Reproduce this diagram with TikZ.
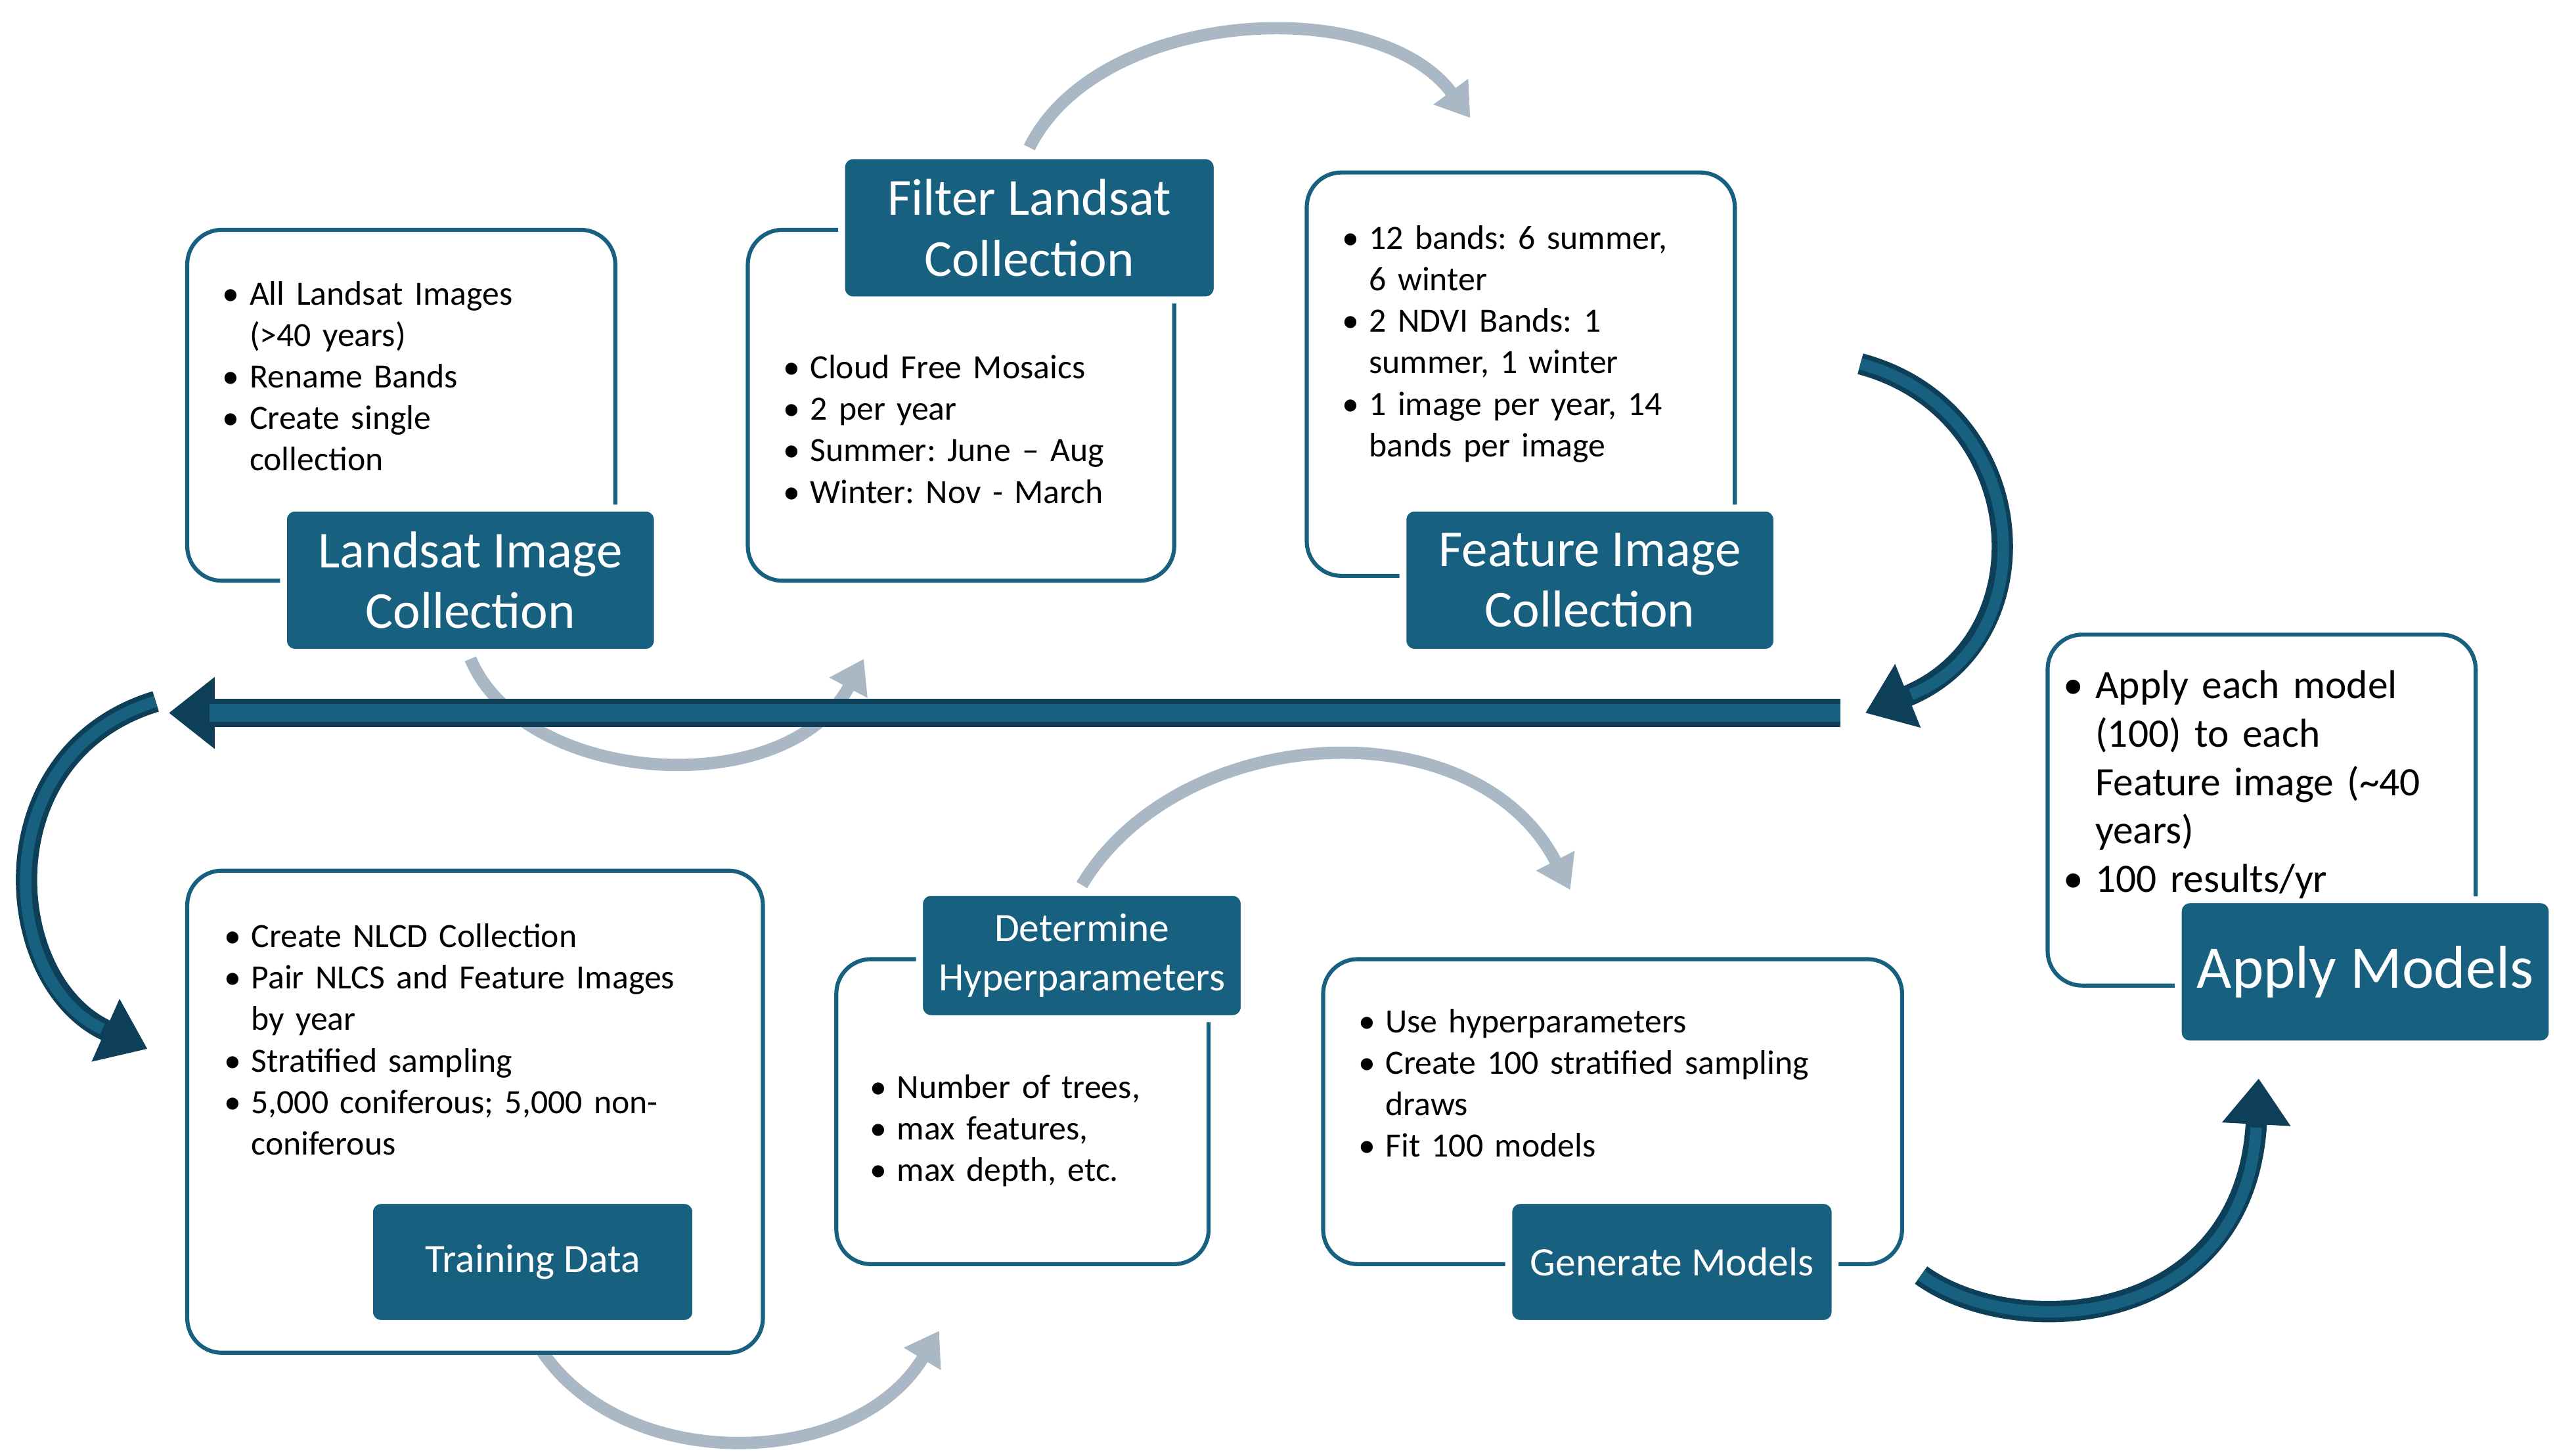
\documentclass[tikz,border=0pt]{standalone}
\usepackage{fontspec}
\setmainfont{Carlito}
\usetikzlibrary{arrows.meta}
\definecolor{dk}{HTML}{17607F}
\definecolor{dkl}{HTML}{0E3F58}
\definecolor{gr}{HTML}{AAB8C6}
\newcommand\bi{\par\hangindent=0.8em\hangafter=1\noindent\makebox[0.8em][l]{\textbullet}}
\frenchspacing
\hyphenpenalty=10000
\exhyphenpenalty=50
\begin{document}
\begin{tikzpicture}[x=0.01cm,y=-0.01cm,
 wb/.style={draw=dk,line width=0.7pt,rounded corners=6pt,fill=white,inner sep=0pt},
 lb/.style={fill=dk,draw=white,line width=1.2pt,rounded corners=2pt,text=white,align=center,font=\fontsize{9}{10.5}\selectfont,inner sep=0pt},
 bt/.style={anchor=north west,align=left,inner sep=0pt,font=\fontsize{5.9}{7.2}\selectfont},
 ga/.style={draw=gr,line width=0.075cm,-{Triangle[length=0.2cm,width=0.25cm]}},
 da/.style={draw=dkl,line width=0.13cm,-{Triangle[length=0.28cm,width=0.40cm]}},
 di/.style={draw=dk,line width=0.07cm,shorten >=0.3cm}]
\useasboundingbox (0,0) rectangle (1560,888);
% gray arrows
\coordinate (g1a) at (628,90); \coordinate (g1b) at (897,72);
\draw[ga] (g1a) .. controls (670,5) and (840,-5) .. (g1b);
\coordinate (g2a) at (287,402); \coordinate (g2b) at (527,402);
\draw[ga] (g2a) .. controls (320,480) and (480,490) .. (g2b);
\coordinate (g3a) at (660,540); \coordinate (g3b) at (958,543);
\draw[ga] (g3a) .. controls (720,440) and (900,430) .. (g3b);
\coordinate (g4a) at (325,815); \coordinate (g4b) at (573,812);
\draw[ga] (g4a) .. controls (370,900) and (520,900) .. (g4b);
% boxes
\node[wb,minimum width=2.61cm,minimum height=2.14cm,anchor=north west] (b1) at (113,139) {};
\node[wb,minimum width=2.60cm,minimum height=2.14cm,anchor=north west] (b2) at (455,139) {};
\node[wb,minimum width=2.61cm,minimum height=2.46cm,anchor=north west] (b3) at (796,104) {};
\node[wb,minimum width=2.61cm,minimum height=2.14cm,anchor=north west] (b4) at (1248,386) {};
\node[wb,minimum width=3.51cm,minimum height=2.94cm,anchor=north west] (b5) at (113,530) {};
\node[wb,minimum width=2.27cm,minimum height=1.86cm,anchor=north west] (b6) at (509,584) {};
\node[wb,minimum width=3.53cm,minimum height=1.86cm,anchor=north west] (b7) at (806,584) {};
% labels
\node[lb,minimum width=2.28cm,minimum height=0.88cm] (l1) at (287,354) {Landsat Image\\Collection};
\node[lb,minimum width=2.29cm,minimum height=0.88cm] (l2) at (628,139) {Filter Landsat\\Collection};
\node[lb,minimum width=2.28cm,minimum height=0.88cm] (l3) at (970,354) {Feature Image\\Collection};
\node[lb,minimum width=2.28cm,minimum height=0.88cm,font=\fontsize{10.5}{12}\selectfont] (l4) at (1443,593) {Apply Models};
\node[lb,minimum width=1.99cm,minimum height=0.75cm,font=\fontsize{7}{8.5}\selectfont] (l5) at (325,770) {Training Data};
\node[lb,minimum width=1.98cm,minimum height=0.77cm,font=\fontsize{7}{8.5}\selectfont] (l6) at (660,583) {Determine\\Hyperparameters};
\node[lb,minimum width=1.99cm,minimum height=0.75cm,font=\fontsize{7}{8.5}\selectfont] (l7) at (1020,770) {Generate Models};
% bullets
\node[bt,text width=2.15cm] (t1) at (135,160) {\bi All Landsat Images (>40 years)\bi Rename Bands\bi Create single collection\par};
\node[bt,text width=2.30cm] (t2) at (477,205) {\bi Cloud Free Mosaics\bi 2 per year\bi Summer: June – Aug\bi Winter: Nov - March\par};
\node[bt,text width=2.10cm] (t3) at (818,126) {\bi 12 bands: 6 summer, 6 winter\bi 2 NDVI Bands: 1 summer, 1 winter\bi 1 image per year, 14 bands per image\par};
\node[bt,text width=2.30cm,font=\fontsize{7}{8.4}\selectfont] (t4) at (1258,396) {\bi Apply each model (100) to each Feature image ({\char`~}40 years)\bi 100 results/yr\par};
\node[bt,text width=3.00cm] (t5) at (136,552) {\bi Create NLCD Collection\bi Pair NLCS and Feature Images by year\bi Stratified sampling\bi 5,000 coniferous; 5,000 non-coniferous\par};
\node[bt,text width=2.00cm] (t6) at (530,644) {\bi Number of trees,\bi max features,\bi max depth, etc.\par};
\node[bt,text width=3.15cm] (t7) at (828,604) {\bi Use hyperparameters\bi Create 100 stratified sampling draws\bi Fit 100 models\par};
% dark arrows
\coordinate (h1) at (1123,435); \coordinate (h2) at (103,435);
\draw[draw=dkl,line width=0.17cm,-{Triangle[length=0.28cm,width=0.42cm]}] (h1) -- (h2);
\draw[dk,line width=0.11cm,shorten >=0.25cm] (h1) -- (h2);
\coordinate (d1a) at (1135,222); \coordinate (d1b) at (1138,435);
\draw[da] (d1a) .. controls (1240,250) and (1250,390) .. (d1b);
\draw[di] (d1a) .. controls (1240,250) and (1250,390) .. (d1b);
\coordinate (d2a) at (95,428); \coordinate (d2b) at (90,640);
\draw[da] (d2a) .. controls (-10,460) and (0,600) .. (d2b);
\draw[di] (d2a) .. controls (-10,460) and (0,600) .. (d2b);
\coordinate (d3a) at (1172,778); \coordinate (d3b) at (1378,658);
\draw[da] (d3a) .. controls (1230,820) and (1370,810) .. (d3b);
\draw[di] (d3a) .. controls (1230,820) and (1370,810) .. (d3b);
\end{tikzpicture}
\end{document}
